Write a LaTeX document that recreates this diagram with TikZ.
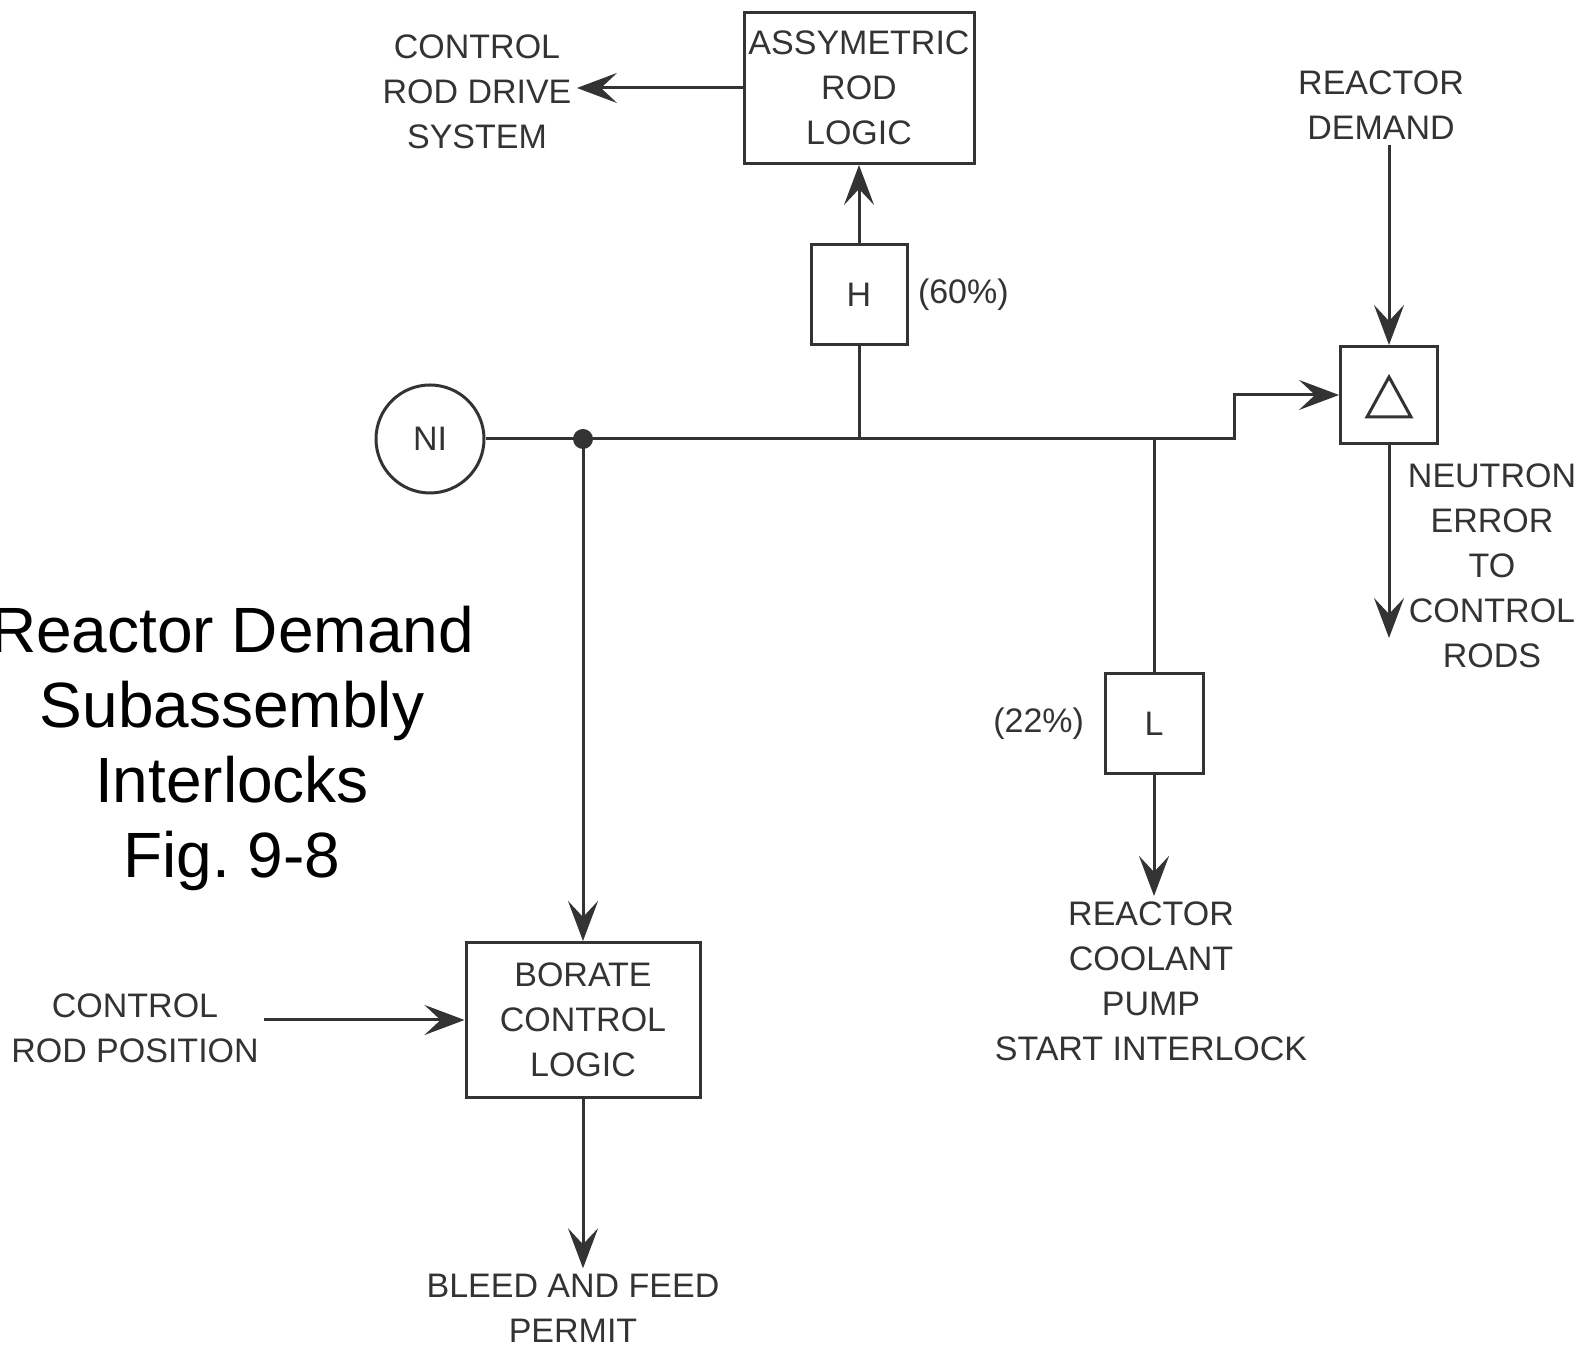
\documentclass[tikz,border=0pt]{standalone}
\usepackage{fontspec}
\setmainfont{Liberation Sans}
\usepackage{tikz}
\usetikzlibrary{arrows.meta,calc,positioning}

\begin{document}
\begin{tikzpicture}[x=0.5pt,y=0.5pt,
  color=black!80, line width=1.5pt,
  lbl/.style={align=center, inner sep=2pt, font=\fontsize{17}{22.5}\selectfont},
  blk/.style={draw, line width=1.5pt, align=center, inner sep=0pt, lbl},
  flow/.style={-{Stealth[length=20pt,width=15pt,inset=8pt]}}]
  \useasboundingbox (0,0) rectangle (1583,1348);

  % boxes and the NI source
  \node (ni) at (430,909) [circle, draw, minimum size=54pt, inner sep=0pt, lbl] {NI};
  \node (asym) at (859,1260) [blk, minimum width=115pt, minimum height=75.5pt] {ASSYMETRIC\\ROD\\LOGIC};
  \node (hbox) at (859,1053) [blk, minimum width=48pt, minimum height=50pt] {H};
  \node (hpct) [right=2pt of hbox, lbl] {(60\%)};
  \node (lbox) at (1154,624) [blk, minimum width=49pt, minimum height=50pt] {L};
  \node (lpct) [left=7pt of lbox, lbl] {(22\%)};
  \node (delta) at (1389,953) [blk, minimum size=48.5pt] {};
  \draw[shift={(delta.center)}] (0,18) -- (22,-22) -- (-22,-22) -- cycle;
  \node (borate) at (583,328) [blk, minimum width=117pt, minimum height=77.5pt] {BORATE\\CONTROL\\LOGIC};

  % signal names
  \node (crds) at (477,1256) [lbl] {CONTROL\\ROD DRIVE\\SYSTEM};
  \node (rdem) at (1381,1243) [lbl] {REACTOR\\DEMAND};
  \node (nerr) at (1492,782) [lbl] {NEUTRON\\ERROR\\TO\\CONTROL\\RODS};
  \node (crpos) at (135,320) [lbl] {CONTROL\\ROD POSITION};
  \node (rcp) at (1151,367) [lbl] {REACTOR\\COOLANT\\PUMP\\START INTERLOCK};
  \node (bleed) at (573,40) [lbl] {BLEED AND FEED\\PERMIT};
  \node (title) at (232,600) [align=center, text=black, font=\fontsize{32}{37.5}\selectfont] {Reactor Demand\\Subassembly\\Interlocks\\Fig.\ 9-8};

  % NI bus
  \coordinate (jdot) at (583,909);
  \coordinate (jstep) at (1234,909);
  \coordinate (nerrend) at (1389,710);
  \draw[flow] (ni.east) -- (jstep) |- (delta.west);
  \fill (jdot) circle (10);
  \draw[flow] (jdot) -- (borate.north);
  \draw (hbox.south |- ni.east) -- (hbox.south);
  \draw (lbox.north |- ni.east) -- (lbox.north);

  % outputs
  \draw[flow] (hbox.north) -- (asym.south);
  \draw[flow] (asym.west) -- (asym.west -| crds.east);
  \draw[flow] (delta.north |- rdem.south) -- (delta.north);
  \draw[flow] (delta.south) -- (nerrend);
  \draw[flow] (lbox.south) -- (lbox.south |- rcp.north);
  \draw[flow] (crpos.east |- borate.west) -- (borate.west);
  \draw[flow] (borate.south) -- (borate.south |- bleed.north);
\end{tikzpicture}
\end{document}
